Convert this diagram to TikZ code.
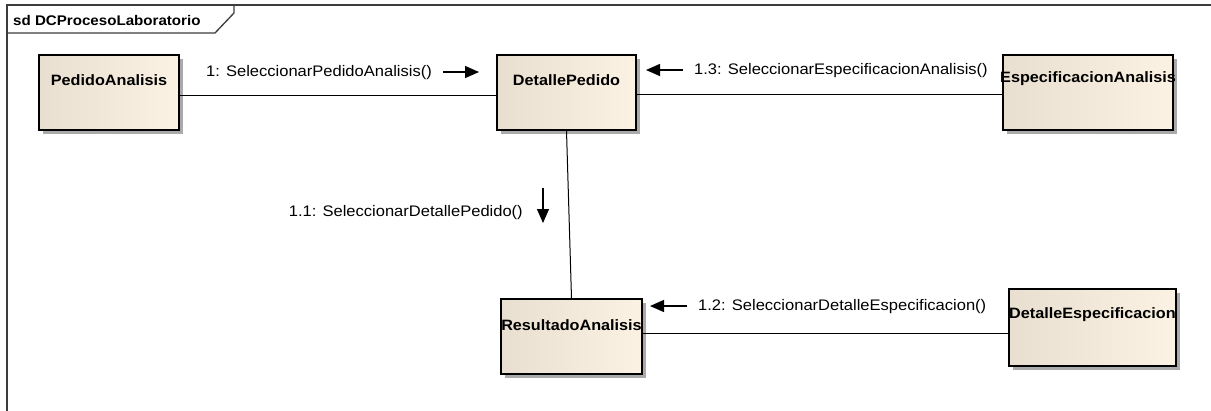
\documentclass[tikz,border=0pt]{standalone}
\usepackage{fontspec}
\setmainfont{Liberation Sans}[FakeStretch=1.08]
\usetikzlibrary{arrows.meta,shadows}

\definecolor{boxleft}{RGB}{232,223,208}
\definecolor{boxright}{RGB}{252,242,227}
\definecolor{shadowgray}{RGB}{170,170,170}
\definecolor{framegray}{RGB}{60,60,60}

\tikzset{
  objbox/.style={draw=black, line width=1.4pt, minimum height=75pt,
    left color=boxleft, right color=boxright, inner sep=0pt,
    drop shadow={shadow xshift=4pt, shadow yshift=-4pt, fill=shadowgray, opacity=1}},
  objname/.style={font=\fontsize{15}{18}\selectfont\bfseries, anchor=center, inner sep=0pt},
  msgtext/.style={font=\fontsize{15.3}{18}\selectfont, inner sep=0pt},
  link/.style={draw=black, line width=1pt},
  msgarrow/.style={line width=1.3pt, -{Triangle[length=14pt,width=12pt]}}
}

\begin{document}
\begin{tikzpicture}[x=1pt,y=-1pt]
\useasboundingbox (0,0) rectangle (1211,410);
\fill[white] (0,0) rectangle (1211,410);

% interaction frame with its name tab
\draw[framegray, line width=1.3pt] (7,420) -- (7,5) -- (1220,5);
\draw[framegray, line width=1.3pt] (7,33) -- (215,33) -- (234,13) -- (234,5);
\node[inner sep=0pt, font=\fontsize{14}{17}\selectfont\bfseries, anchor=west] (title) at (13,20) {sd DCProcesoLaboratorio};

% lifeline objects
\node[objbox, minimum width=140pt] (pa) at (109,92.5) {};
\node[objname] (paname) at (109,80) {PedidoAnalisis};
\node[objbox, minimum width=139pt] (dp) at (566.5,92.5) {};
\node[objname] (dpname) at (566.5,80) {DetallePedido};
\node[objbox, minimum width=170pt] (ea) at (1088,92.5) {};
\node[objname] (eaname) at (1088,79) {EspecificacionAnalisis};
\node[objbox, minimum width=141pt] (ra) at (571.5,336.5) {};
\node[objname] (raname) at (571.5,325) {ResultadoAnalisis};
\node[objbox, minimum width=167pt, minimum height=77pt] (de) at (1092.5,327.5) {};
\node[objname] (dename) at (1092.5,315) {DetalleEspecificacion};

% links between objects
\coordinate (l1) at ([yshift=-2.5pt]pa.east);
\draw[link] (l1) -- (l1 -| dp.west);
\coordinate (l2) at ([yshift=-2pt]dp.east);
\draw[link] (l2) -- (l2 -| ea.west);
\draw[link] (dp.south) -- (ra.north);
\coordinate (l3) at ([yshift=3.5pt]ra.east);
\draw[link] (l3) -- (l3 -| de.west);

% messages
\node[msgtext, anchor=west] (m1) at (206,73) {1: SeleccionarPedidoAnalisis()};
\coordinate (m1a) at (443,72);
\coordinate (m1b) at (479,72);
\draw[msgarrow] (m1a) -- (m1b);

\node[msgtext, anchor=west] (m13) at (694,71) {1.3: SeleccionarEspecificacionAnalisis()};
\coordinate (m13a) at (683,70);
\coordinate (m13b) at (646,70);
\draw[msgarrow] (m13a) -- (m13b);

\node[msgtext, anchor=east] (m11) at (523,213) {1.1: SeleccionarDetallePedido()};
\coordinate (m11a) at (543,188);
\coordinate (m11b) at (543,223);
\draw[msgarrow] (m11a) -- (m11b);

\node[msgtext, anchor=west] (m12) at (698,307) {1.2: SeleccionarDetalleEspecificacion()};
\coordinate (m12a) at (687,306);
\coordinate (m12b) at (650,306);
\draw[msgarrow] (m12a) -- (m12b);
\end{tikzpicture}
\end{document}
